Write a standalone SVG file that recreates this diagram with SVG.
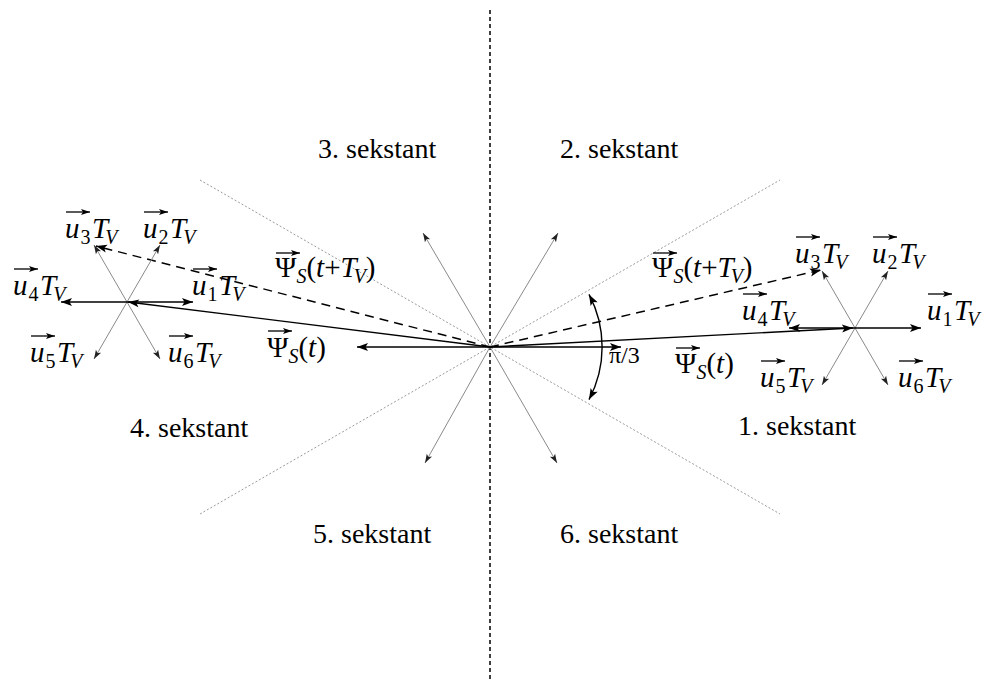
<svg xmlns="http://www.w3.org/2000/svg" width="989" height="682" viewBox="0 0 989 682">
<style>
text{font-family:'Liberation Serif','Times New Roman',serif;fill:#000}
.s{font-size:28px}
.m{font-size:29px}
.i{font-style:italic}
.sub{font-size:20px}
.blk{stroke:#000;stroke-width:1.4;fill:none;marker-end:url(#ah)}
.gry{stroke:#8a8a8a;stroke-width:1;fill:none;marker-end:url(#ag)}
.dsh{stroke:#000;stroke-width:1.5;fill:none;stroke-dasharray:9,6;marker-end:url(#ah)}
.dot{stroke:#9a9a9a;stroke-width:1;fill:none;stroke-dasharray:2,2}
.ov{stroke:#000;stroke-width:1.3;marker-end:url(#ao)}
</style>
<defs>
<marker id="ah" markerUnits="userSpaceOnUse" markerWidth="12" markerHeight="8" refX="11" refY="4" orient="auto-start-reverse" overflow="visible"><path d="M0,0 L11,4 L0,8 L2.5,4 z" fill="#000"/></marker>
<marker id="ag" markerUnits="userSpaceOnUse" markerWidth="9" markerHeight="6" refX="9" refY="3" orient="auto" overflow="visible"><path d="M0,0 L9,3 L0,6 L2,3 z" fill="#222"/></marker>
<marker id="ao" markerUnits="userSpaceOnUse" markerWidth="9" markerHeight="6" refX="9" refY="3" orient="auto" overflow="visible"><path d="M0,0 L9,3 L0,6 L2,3 z" fill="#000"/></marker>
</defs>
<rect width="989" height="682" fill="#fff"/>

<g id="axes">
<line x1="490" y1="10" x2="490" y2="682" stroke="#000" stroke-width="1.5" stroke-dasharray="4,3"/>
<line class="dot" x1="200" y1="180" x2="780" y2="514"/>
<line class="dot" x1="200" y1="514" x2="780" y2="180"/>
</g>

<g id="connectors">
<line class="gry" x1="490" y1="347" x2="423" y2="233"/>
<line class="gry" x1="490" y1="347" x2="558" y2="233"/>
<line class="gry" x1="490" y1="347" x2="425" y2="463"/>
<line class="gry" x1="490" y1="347" x2="557" y2="463"/>
<line class="blk" x1="490" y1="347" x2="357" y2="347"/>
<line class="blk" x1="490" y1="347" x2="621" y2="347"/>
<line class="blk" x1="490" y1="347" x2="128" y2="302"/>
<line class="blk" x1="490" y1="347" x2="853" y2="328"/>
<line class="dsh" x1="490" y1="347" x2="96" y2="246"/>
<line class="dsh" x1="490" y1="347" x2="821" y2="270"/>
<line class="gry" x1="127" y1="302" x2="94" y2="245"/>
<line class="gry" x1="127" y1="302" x2="160" y2="245"/>
<line class="gry" x1="127" y1="302" x2="94" y2="359"/>
<line class="gry" x1="127" y1="302" x2="160" y2="359"/>
<line class="blk" x1="127" y1="302" x2="193" y2="302"/>
<line class="blk" x1="127" y1="302" x2="61" y2="302"/>
<line class="gry" x1="855" y1="328" x2="822" y2="271"/>
<line class="gry" x1="855" y1="328" x2="888" y2="271"/>
<line class="gry" x1="855" y1="328" x2="822" y2="385"/>
<line class="gry" x1="855" y1="328" x2="888" y2="385"/>
<line class="blk" x1="855" y1="328" x2="921" y2="328"/>
<line class="blk" x1="855" y1="328" x2="789" y2="328"/>
<path d="M589,294.4 A112,112 0 0 1 589,399.6" stroke="#000" stroke-width="1.4" fill="none" marker-start="url(#ah)" marker-end="url(#ah)"/>
</g>

<g id="sextants">
<text class="s" x="318" y="158">3. sekstant</text>
<text class="s" x="560" y="158">2. sekstant</text>
<text class="s" x="130" y="437">4. sekstant</text>
<text class="s" x="738" y="435">1. sekstant</text>
<text class="s" x="313" y="543">5. sekstant</text>
<text class="s" x="560" y="543">6. sekstant</text>
</g>

<g id="left-labels">
<g id="l-u3"><line class="ov" x1="66" y1="212" x2="90" y2="212"/><text class="m" x="65" y="238"><tspan class="i">u</tspan><tspan class="sub" dy="6" dx="1">3</tspan><tspan class="i" dy="-6" dx="1.5">T</tspan><tspan class="sub i" dy="6" dx="-3">V</tspan></text></g>
<g id="l-u2"><line class="ov" x1="144" y1="212" x2="168" y2="212"/><text class="m" x="143" y="238"><tspan class="i">u</tspan><tspan class="sub" dy="6" dx="1">2</tspan><tspan class="i" dy="-6" dx="1.5">T</tspan><tspan class="sub i" dy="6" dx="-3">V</tspan></text></g>
<g id="l-u4"><line class="ov" x1="14" y1="269" x2="38" y2="269"/><text class="m" x="13" y="295"><tspan class="i">u</tspan><tspan class="sub" dy="6" dx="1">4</tspan><tspan class="i" dy="-6" dx="1.5">T</tspan><tspan class="sub i" dy="6" dx="-3">V</tspan></text></g>
<g id="l-u1"><line class="ov" x1="193" y1="269" x2="217" y2="269"/><text class="m" x="192" y="295"><tspan class="i">u</tspan><tspan class="sub" dy="6" dx="1">1</tspan><tspan class="i" dy="-6" dx="1.5">T</tspan><tspan class="sub i" dy="6" dx="-3">V</tspan></text></g>
<g id="l-u5"><line class="ov" x1="31" y1="336" x2="55" y2="336"/><text class="m" x="30" y="362"><tspan class="i">u</tspan><tspan class="sub" dy="6" dx="1">5</tspan><tspan class="i" dy="-6" dx="1.5">T</tspan><tspan class="sub i" dy="6" dx="-3">V</tspan></text></g>
<g id="l-u6"><line class="ov" x1="169" y1="336" x2="193" y2="336"/><text class="m" x="168" y="362"><tspan class="i">u</tspan><tspan class="sub" dy="6" dx="1">6</tspan><tspan class="i" dy="-6" dx="1.5">T</tspan><tspan class="sub i" dy="6" dx="-3">V</tspan></text></g>
<g id="l-psi1"><line class="ov" x1="276" y1="253" x2="300" y2="253"/><text class="m" x="275" y="277">Ψ<tspan class="sub i" dy="6">S</tspan><tspan dy="-6">(</tspan><tspan class="i">t</tspan>+<tspan class="i">T</tspan><tspan class="sub i" dy="6" dx="-3">V</tspan><tspan dy="-6">)</tspan></text></g>
<g id="l-psi0"><line class="ov" x1="268" y1="331" x2="292" y2="331"/><text class="m" x="267" y="357">Ψ<tspan class="sub i" dy="6">S</tspan><tspan dy="-6">(</tspan><tspan class="i">t</tspan>)</text></g>
</g>

<g id="right-labels">
<g id="r-u3"><line class="ov" x1="796" y1="237" x2="820" y2="237"/><text class="m" x="795" y="263"><tspan class="i">u</tspan><tspan class="sub" dy="6" dx="1">3</tspan><tspan class="i" dy="-6" dx="1.5">T</tspan><tspan class="sub i" dy="6" dx="-3">V</tspan></text></g>
<g id="r-u2"><line class="ov" x1="873" y1="237" x2="897" y2="237"/><text class="m" x="872" y="263"><tspan class="i">u</tspan><tspan class="sub" dy="6" dx="1">2</tspan><tspan class="i" dy="-6" dx="1.5">T</tspan><tspan class="sub i" dy="6" dx="-3">V</tspan></text></g>
<g id="r-u4"><line class="ov" x1="743" y1="294" x2="767" y2="294"/><text class="m" x="742" y="320"><tspan class="i">u</tspan><tspan class="sub" dy="6" dx="1">4</tspan><tspan class="i" dy="-6" dx="1.5">T</tspan><tspan class="sub i" dy="6" dx="-3">V</tspan></text></g>
<g id="r-u1"><line class="ov" x1="928" y1="294" x2="952" y2="294"/><text class="m" x="927" y="320"><tspan class="i">u</tspan><tspan class="sub" dy="6" dx="1">1</tspan><tspan class="i" dy="-6" dx="1.5">T</tspan><tspan class="sub i" dy="6" dx="-3">V</tspan></text></g>
<g id="r-u5"><line class="ov" x1="761" y1="361" x2="785" y2="361"/><text class="m" x="760" y="387"><tspan class="i">u</tspan><tspan class="sub" dy="6" dx="1">5</tspan><tspan class="i" dy="-6" dx="1.5">T</tspan><tspan class="sub i" dy="6" dx="-3">V</tspan></text></g>
<g id="r-u6"><line class="ov" x1="899" y1="361" x2="923" y2="361"/><text class="m" x="898" y="387"><tspan class="i">u</tspan><tspan class="sub" dy="6" dx="1">6</tspan><tspan class="i" dy="-6" dx="1.5">T</tspan><tspan class="sub i" dy="6" dx="-3">V</tspan></text></g>
<g id="r-psi1"><line class="ov" x1="653" y1="253" x2="677" y2="253"/><text class="m" x="652" y="277">Ψ<tspan class="sub i" dy="6">S</tspan><tspan dy="-6">(</tspan><tspan class="i">t</tspan>+<tspan class="i">T</tspan><tspan class="sub i" dy="6" dx="-3">V</tspan><tspan dy="-6">)</tspan></text></g>
<g id="r-psi0"><line class="ov" x1="676" y1="348" x2="700" y2="348"/><text class="m" x="675" y="373">Ψ<tspan class="sub i" dy="6">S</tspan><tspan dy="-6">(</tspan><tspan class="i">t</tspan>)</text></g>
<g id="angle-label"><text x="609" y="363" font-size="24">π/3</text></g>
</g>
</svg>
